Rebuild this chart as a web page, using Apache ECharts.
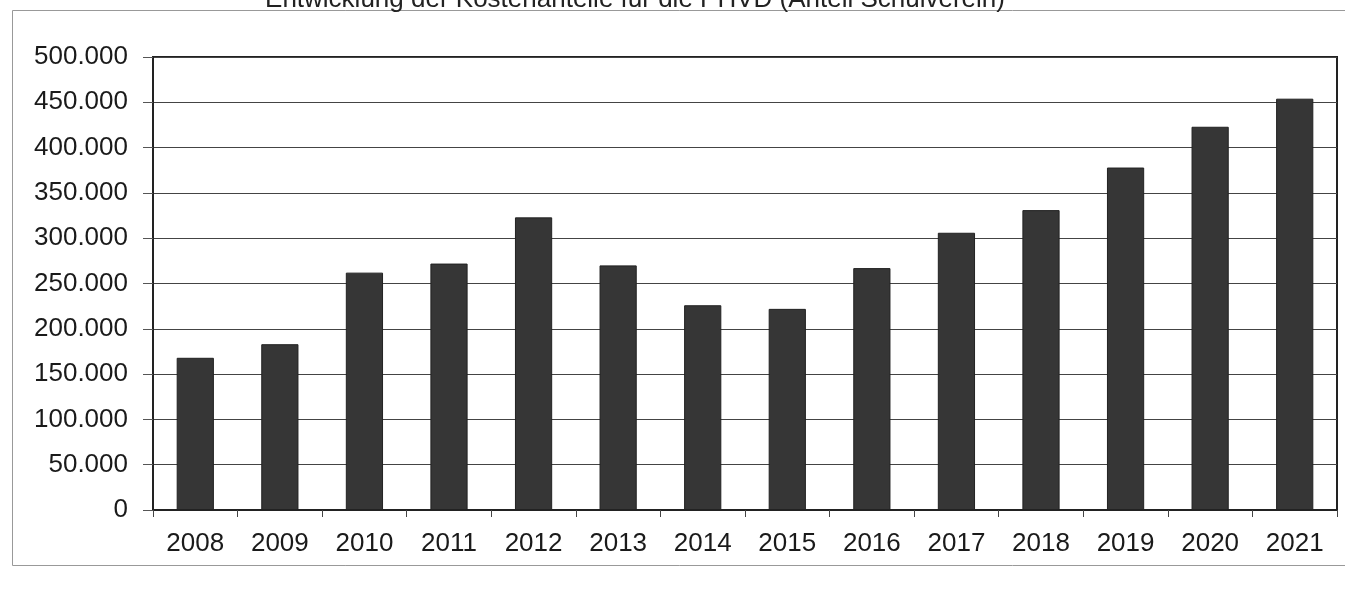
<!DOCTYPE html>
<html>
<head>
<meta charset="utf-8">
<script src="https://cdn.jsdelivr.net/npm/echarts@6/dist/echarts.min.js"></script>
<style>
html,body{margin:0;padding:0;background:#fff;}
#chart{width:1345px;height:594px;}
</style>
</head>
<body>
<div id="chart"></div>
<script>
const titleText = "Entwicklung der Kostenanteile für die PHVD (Anteil Schulverein)";
const years = ["2008","2009","2010","2011","2012","2013","2014","2015","2016","2017","2018","2019","2020","2021"];
const values = [168000,183000,262000,272000,323000,270000,226000,222000,267000,306000,331000,378000,423000,454000];

function fmt(v){
  return String(v).replace(/\B(?=(\d{3})+(?!\d))/g, ".");
}

const chart = echarts.init(document.getElementById('chart'));
chart.setOption({
  backgroundColor: '#ffffff',
  animation: false,
  title: {
    text: titleText,
    left: 630,
    textAlign: 'center',
    top: -18,
    textStyle: {fontFamily: 'Liberation Sans, Arial', fontSize: 26, fontWeight: 'normal', color: '#222'}
  },
  graphic: [{
    type: 'rect',
    shape: {x: 12.5, y: 10.5, width: 1345, height: 555},
    style: {fill: 'none', stroke: '#999', lineWidth: 1},
    silent: true,
    z: -1
  }],
  grid: {
    left: 153, right: 8, top: 57, bottom: 84,
    show: true, borderColor: '#222', borderWidth: 2, backgroundColor: 'transparent'
  },
  xAxis: {
    type: 'category',
    data: years,
    boundaryGap: true,
    axisLine: {show: true, lineStyle: {color: '#222', width: 2}},
    axisTick: {show: true, length: 7, inside: false, lineStyle: {color: '#444', width: 1}},
    axisLabel: {fontFamily: 'Liberation Sans, Arial', fontSize: 26, color: '#1a1a1a', margin: 21}
  },
  yAxis: {
    type: 'value',
    min: 0, max: 500000, interval: 50000,
    axisLine: {show: true, lineStyle: {color: '#222', width: 2}},
    axisTick: {show: true, length: 10, lineStyle: {color: '#555', width: 1}},
    splitLine: {show: true, lineStyle: {color: '#444', width: 1}},
    axisLabel: {
      fontFamily: 'Liberation Sans, Arial', fontSize: 26, color: '#1a1a1a', margin: 25,
      formatter: fmt
    }
  },
  series: [{
    type: 'bar',
    data: values,
    barWidth: '44%',
    itemStyle: {color: '#363636', borderColor: '#222', borderWidth: 1}
  }]
});
</script>
</body>
</html>
